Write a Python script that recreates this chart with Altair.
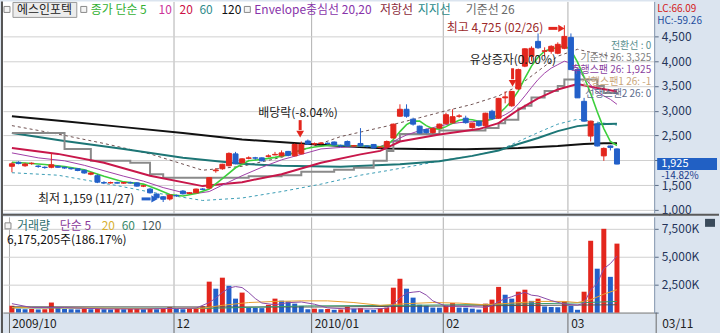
import altair as alt
import pandas as pd

FONT = "Noto Sans CJK KR"
RED = "#e3261d"
BLUE = "#2360c9"

# ---------------- data ----------------
# trading-day index 0 .. 92  (late Oct 2009 .. 2010-03-11)
opens = [1880, 1960, 1890, 1935, 1885, 1860, 1860, 1880, 1860, 1840,
         1830, 1800, 1720, 1690, 1550, 1545, 1550, 1540, 1550, 1545,
         1480, 1420, 1320, 1265, 1220, 1290, 1380, 1330, 1345, 1420,
         1440, 1790, 1830, 1890, 2130, 1950, 2040, 2050, 2050, 2080,
         2110, 2090, 2180, 2090, 2130, 2390, 2330, 2340, 2345, 2370,
         2300, 2380, 2290, 2340, 2290, 2320, 2260, 2270, 2450, 2890,
         3030, 2830, 2690, 2620, 2560, 2650, 2740, 2760, 2890, 2850,
         2660, 2790, 2700, 2990, 2850, 3260, 3100, 3440, 3900, 4100,
         4400, 4200, 4200, 4160, 4260, 4480, 3830, 3190, 2490, 2730,
         2090, 2290, 2230]
highs = [1960, 1980, 1950, 1960, 1900, 1880, 2140, 1890, 1870, 1850,
         1840, 1810, 1760, 1720, 1580, 1570, 1570, 1560, 1570, 1560,
         1500, 1440, 1330, 1280, 1310, 1310, 1400, 1360, 1430, 1440,
         1660, 1845, 1930, 2160, 2170, 2040, 2080, 2070, 2060, 2120,
         2170, 2200, 2190, 2340, 2380, 2420, 2360, 2370, 2360, 2380,
         2320, 2400, 2310, 2650, 2300, 2330, 2280, 2400, 2740, 3130,
         3130, 2860, 2700, 2640, 2660, 2740, 2960, 3030, 2930, 2900,
         2760, 2800, 2960, 3020, 3260, 3390, 3400, 3850, 4260, 4300,
         4560, 4280, 4320, 4380, 4725, 4560, 3840, 3260, 2800, 2760,
         2260, 2300, 2240]
lows = [1760, 1920, 1870, 1910, 1850, 1830, 1840, 1850, 1830, 1810,
        1780, 1730, 1700, 1540, 1520, 1530, 1530, 1525, 1530, 1470,
        1460, 1330, 1230, 1159, 1190, 1260, 1310, 1320, 1340, 1400,
        1430, 1750, 1810, 1880, 1920, 1940, 2020, 2010, 1980, 2060,
        2100, 2080, 2080, 2080, 2120, 2310, 2300, 2320, 2320, 2300,
        2270, 2280, 2270, 2280, 2260, 2240, 2240, 2260, 2440, 2880,
        2860, 2700, 2540, 2540, 2540, 2640, 2730, 2740, 2860, 2740,
        2640, 2680, 2680, 2820, 2840, 3150, 3080, 3420, 3880, 4000,
        4250, 4100, 4150, 4140, 4240, 3830, 3260, 2780, 2380, 2280,
        1990, 2200, 1920]
closes = [1930, 1935, 1925, 1940, 1875, 1855, 1910, 1860, 1845, 1830,
          1795, 1745, 1745, 1560, 1545, 1550, 1540, 1550, 1545, 1480,
          1485, 1345, 1245, 1215, 1300, 1285, 1325, 1345, 1420, 1415,
          1650, 1805, 1920, 2140, 1930, 2030, 2050, 2045, 1990, 2090,
          2120, 2150, 2100, 2320, 2320, 2330, 2335, 2350, 2340, 2310,
          2290, 2290, 2295, 2290, 2285, 2250, 2265, 2380, 2730, 3030,
          2890, 2730, 2550, 2560, 2640, 2730, 2920, 2880, 2895, 2760,
          2750, 2700, 2950, 2840, 3250, 3280, 3390, 3830, 4250, 4260,
          4270, 4210, 4300, 4340, 4500, 3830, 3260, 2790, 2790, 2290,
          2240, 2260, 1925]
volumes_k = [620, 350, 300, 320, 280, 300, 900, 400, 320, 300,
             280, 330, 300, 350, 300, 280, 320, 300, 330, 380,
             300, 350, 300, 380, 500, 330, 300, 350, 420, 580,
             2770, 2140, 3125, 2400, 1250, 1790, 450, 420, 400, 700,
             1250, 1070, 1000, 800, 600, 300, 350, 300, 320, 250,
             280, 500, 350, 400, 250, 240, 350, 450, 2230, 3030,
             2140, 1340, 700, 620, 450, 440, 620, 860, 450, 440,
             350, 270, 800, 1160, 2300, 1600, 1250, 1870, 2050, 1050,
             1250, 550, 500, 480, 1000, 600, 250, 1870, 6430, 3930,
             7500, 3200, 6175]

# indicator lines (index, price)
ma5_i = [0, 2, 5, 8, 11, 14, 17, 20, 22, 24, 26, 28, 30, 32, 34, 36, 38, 40, 42, 44, 46, 48, 50, 52, 54, 56, 57, 58,
         59, 60, 61, 62, 63, 64, 65, 66, 67, 68, 69, 70, 71, 72, 73, 74, 75, 76, 77, 78, 79, 80, 81, 82, 83, 84, 85,
         86, 87, 88, 89, 90, 91, 92]
ma5_v = [1960, 1945, 1915, 1875, 1810, 1680, 1565, 1520, 1420, 1310, 1280, 1330, 1420, 1630, 1850, 1990, 2020,
         2060, 2110, 2220, 2270, 2300, 2300, 2295, 2290, 2275, 2300, 2420, 2580, 2720, 2790, 2790, 2700, 2640,
         2630, 2680, 2750, 2810, 2830, 2820, 2790, 2800, 2830, 2930, 3060, 3200, 3400, 3660, 3900, 4080, 4200,
         4250, 4270, 4320, 4220, 3980, 3680, 3350, 2980, 2640, 2380, 2300]
ma10_i = [0, 4, 8, 11, 14, 17, 20, 23, 26, 28, 30, 32, 35, 38, 41, 44, 47, 50, 53, 56, 58, 59, 60, 62, 64, 66, 68,
          70, 72, 74, 75, 76, 77, 78, 79, 80, 81, 82, 83, 84, 85, 86, 87, 88, 89, 90, 91, 92]
ma10_v = [2150, 2050, 1990, 1900, 1790, 1680, 1580, 1450, 1350, 1330, 1370, 1500, 1690, 1860, 2010, 2120, 2230,
          2260, 2280, 2280, 2380, 2450, 2510, 2600, 2660, 2720, 2760, 2780, 2800, 2860, 2920, 3000, 3140, 3300,
          3470, 3630, 3760, 3860, 3930, 4000, 3960, 3850, 3670, 3520, 3380, 3300, 3230, 3130]
ma20_i = [0, 7, 14, 21, 29, 35, 41, 47, 53, 56, 59, 65, 71, 74, 77, 80, 83, 86, 89, 92]
ma20_v = [2250, 2130, 1950, 1690, 1480, 1560, 1720, 1950, 2120, 2190, 2380, 2520, 2630, 2750, 3020, 3250, 3430,
          3540, 3460, 3390]
ma60_i = [0, 8, 17, 26, 35, 41, 50, 59, 65, 70, 74, 77, 80, 83, 86, 89, 92]
ma60_v = [2550, 2390, 2230, 2050, 1930, 1890, 1870, 1920, 1980, 2090, 2200, 2330, 2450, 2590, 2690, 2730, 2740]
ma120_i = [0, 8, 17, 26, 35, 44, 50, 57, 62, 69, 77, 83, 87, 90, 92]
ma120_v = [2890, 2790, 2670, 2550, 2420, 2340, 2290, 2240, 2230, 2225, 2250, 2290, 2330, 2345, 2345]
base_i = [0, 8, 12, 18, 21, 23, 36, 41, 44, 49, 52, 55, 57, 58, 59, 65, 72, 74, 75, 77, 78, 79, 81, 83, 84, 89,
          90, 92]
base_v = [2550, 2230, 1990, 1950, 1720, 1650, 1680, 1700, 1770, 1810, 1850, 1990, 2190, 2390, 2530, 2600, 2650,
          2750, 2820, 3045, 3100, 3270, 3400, 3500, 3630, 3500, 3360, 3325]
envu_i = [0, 7, 14, 21, 29, 35, 41, 50, 57, 62, 66, 70, 74, 77, 80, 83, 86, 89, 92]
envu_v = [2700, 2530, 2340, 2130, 1800, 1880, 2060, 2480, 2690, 2860, 3000, 3130, 3300, 3500, 3800, 4100, 4240,
          4150, 4070]
envl_i = [0, 7, 16, 21, 29, 35, 41, 47, 53, 57, 62, 66, 70, 74, 77, 80, 83, 86, 89, 92]
envl_v = [1750, 1700, 1490, 1360, 1190, 1240, 1370, 1520, 1700, 1790, 1910, 2010, 2090, 2200, 2380, 2560, 2730,
          2830, 2770, 2710]

# volume averages (index, thousand shares)
vma5_i = [0, 3, 8, 14, 20, 25, 28, 30, 31, 32, 33, 34, 35, 36, 37, 38, 40, 42, 44, 46, 48, 51, 55, 57, 58, 59, 60,
          61, 62, 63, 64, 66, 68, 70, 72, 73, 74, 75, 76, 77, 78, 79, 80, 82, 84, 86, 87, 88, 89, 90, 91, 92]
vma5_v = [800, 450, 450, 330, 320, 380, 400, 900, 1300, 1800, 2200, 2330, 2240, 1800, 1260, 860, 700, 890, 950,
          750, 420, 330, 330, 390, 730, 1300, 1750, 1830, 1890, 1570, 1050, 570, 570, 520, 480, 620, 1000, 1240,
          1420, 1640, 1810, 1560, 1490, 1080, 760, 670, 840, 2030, 2620, 3930, 4390, 5060]
vma20_i = [0, 10, 20, 29, 32, 36, 40, 44, 48, 52, 56, 60, 64, 68, 72, 76, 80, 84, 86, 88, 90, 92]
vma20_v = [450, 420, 350, 400, 650, 900, 1000, 1050, 1050, 900, 650, 800, 900, 850, 700, 850, 1000, 1000, 900,
           1150, 1650, 2050]
vma60_i = [0, 30, 45, 60, 75, 85, 92]
vma60_v = [420, 380, 600, 650, 750, 850, 1000]
vma120_i = [0, 46, 92]
vma120_v = [520, 500, 700]

month_pos = [-0.5, 24.5, 45.5, 65.5, 84.5]
month_labels = ["2009/10", "12", "2010/01", "02", "03"]
price_ticks = [1000, 1500, 2000, 2500, 3000, 3500, 4000, 4500]
vol_ticks = [0, 2500, 5000, 7500]

# ---------------- chart ----------------
W, HP, HV = 653, 212, 96
XS = alt.Scale(domain=[-0.6, 96.9], nice=False, zero=False)
YS = alt.Scale(domain=[940, 5205], nice=False, zero=False)
VS = alt.Scale(domain=[0, 8570], nice=False, zero=False)
DIR = alt.Scale(domain=["up", "down"], range=[RED, BLUE])

n = len(closes)
cdf = pd.DataFrame({
    "i": list(range(n)), "o": opens, "h": highs, "l": lows, "c": closes, "v": volumes_k,
})
cdf["bt"] = cdf[["o", "c"]].max(axis=1)
cdf["bb"] = cdf[["o", "c"]].min(axis=1)
cdf["dir"] = ["up" if c >= o else "down" for o, c in zip(opens, closes)]
cdf["vdir"] = ["up" if k == 0 or volumes_k[k] >= volumes_k[k - 1] else "down" for k in range(n)]

last = closes[-1]
chg = (closes[-1] / closes[-2] - 1) * 100

# axes (same objects used in every layer so that they merge cleanly)
price_axis = alt.Axis(orient="right", values=price_ticks, labelExpr=(
    f"datum.value == {round(last, -3)} ? '' : format(datum.value, ',')"),
    grid=True, gridColor="#d0d0d0", tickSize=4, tickColor="#5a6b85", domainColor="#8496ad",
    labelColor="#25355a", labelFont=FONT, labelFontSize=12, labelPadding=3, labelOverlap=False,
    minExtent=65, maxExtent=65, title=None)
px_axis = alt.Axis(values=month_pos[1:], grid=True, gridColor="#b0b0b0", labels=False, ticks=False,
                   domain=False, title=None, minExtent=0, maxExtent=0)
vol_axis = alt.Axis(orient="right", values=vol_ticks, grid=True, gridColor="#d0d0d0", tickSize=4,
                    tickColor="#5a6b85", domainColor="#8496ad", labelColor="#25355a", labelFont=FONT,
                    labelFontSize=12, labelPadding=3, labelOverlap=False, minExtent=65, maxExtent=65,
                    title=None, labelExpr="datum.value == 0 ? '' : format(datum.value, ',') + 'K'")
lab_expr = " : ".join(f"datum.value < {p + 1} ? '{l}'" for p, l in zip(month_pos[:-1], month_labels[:-1]))
lab_expr += f" : '{month_labels[-1]}'"
vx_axis = alt.Axis(values=month_pos, labelExpr=lab_expr, grid=True, gridColor="#b0b0b0", tickSize=21,
                   tickColor="#6a6a6a", domainColor="#8a8a8a", labelAlign="left", labelBaseline="middle",
                   labelPadding=-10, labelOffset=3, labelColor="#222222", labelFont=FONT, labelFontSize=12,
                   labelOverlap=False, labelFlush=False, minExtent=21, maxExtent=21, title=None)

ONE = alt.Data(values=[{}])


def line(idx, vals, color, width, dash=None, interp=None):
    df = pd.DataFrame({"i": idx, "p": vals})
    kw = dict(color=color, strokeWidth=width)
    if dash:
        kw["strokeDash"] = dash
    if interp:
        kw["interpolate"] = interp
    return alt.Chart(df).mark_line(**kw).encode(
        x=alt.X("i:Q", scale=XS, axis=px_axis), y=alt.Y("p:Q", scale=YS, axis=price_axis))


def vline(idx, vals, color):
    df = pd.DataFrame({"i": idx, "v": vals})
    return alt.Chart(df).mark_line(color=color, strokeWidth=1).encode(
        x=alt.X("i:Q", scale=XS, axis=vx_axis), y=alt.Y("v:Q", scale=VS, axis=vol_axis))


def txt(x, y, s, color, size=12, align="left"):
    return alt.Chart(ONE).mark_text(text=s, align=align, baseline="middle", font=FONT, fontSize=size,
                                    color=color).encode(x=alt.value(x), y=alt.value(y))


def box(x1, x2, y1, y2, fill, stroke=None):
    kw = dict(fill=fill)
    if stroke:
        kw["stroke"] = stroke
        kw["strokeWidth"] = 1
    return alt.Chart(ONE).mark_rect(**kw).encode(
        x=alt.value(x1), x2=alt.value(x2), y=alt.value(y1), y2=alt.value(y2))


def seg(x1, y1, x2, y2, color, w):
    return alt.Chart(ONE).mark_rule(color=color, strokeWidth=w).encode(
        x=alt.value(x1), x2=alt.value(x2), y=alt.value(y1), y2=alt.value(y2))


def tri(x, y, shape, color, size=60):
    return alt.Chart(ONE).mark_point(shape=shape, filled=True, size=size, color=color, opacity=1).encode(
        x=alt.value(x), y=alt.value(y))


wick = alt.Chart(cdf).mark_rule(strokeWidth=1).encode(
    x=alt.X("i:Q", scale=XS, axis=px_axis), y=alt.Y("l:Q", scale=YS, axis=price_axis), y2="h:Q",
    color=alt.Color("dir:N", scale=DIR, legend=None))
body = alt.Chart(cdf).mark_bar(size=5, strokeWidth=1).encode(
    x=alt.X("i:Q", scale=XS, axis=px_axis),
    y=alt.Y("bt:Q", scale=YS, axis=price_axis), y2="bb:Q",
    color=alt.Color("dir:N", scale=DIR, legend=None),
    stroke=alt.Stroke("dir:N", scale=DIR, legend=None))

price_layers = [
    line(envu_i, envu_v, "#6e5050", 1, dash=[3, 3]),
    line(envl_i, envl_v, "#3b9db5", 1, dash=[3, 3]),
    line(ma120_i, ma120_v, "#111111", 2),
    line(ma60_i, ma60_v, "#1d7676", 2),
    line(base_i, base_v, "#8a8a8a", 2, interp="step-after"),
    line(ma20_i, ma20_v, "#c8174a", 2),
    line(ma10_i, ma10_v, "#a040a8", 1),
    line(ma5_i, ma5_v, "#3ccf3c", 1.6),
    wick, body,
    # legend row
    box(1, 7, 5, 11, "#f4f4f4", "#8a8a8a"),
    box(10, 74, 1, 16, "#ececec", "#9a9a9a"),
    txt(14, 9, "에스인포텍", "#222222"),
    box(78, 84, 5, 11, "#f4f4f4", "#8a8a8a"),
    txt(88, 9, "종가 단순 5", "#33b033"),
    txt(156, 9, "10", "#cc3399"),
    txt(177, 9, "20", "#cc1144"),
    txt(197, 9, "60", "#2f8a8a"),
    txt(219, 9, "120", "#111111"),
    box(242, 248, 5, 11, "#f4f4f4", "#8a8a8a"),
    txt(252, 9, "Envelope중심선 20,20", "#8833aa"),
    txt(378, 9, "저항선", "#8b2a3a"),
    txt(416, 9, "지지선", "#2a8a8a"),
    txt(464, 9, "기준선 26", "#6a6a6a"),
    txt(656, 8, "LC:66.09", "#d42020", 10),
    txt(656, 20, "HC:-59.26", "#1f4f9f", 10),
    # annotations
    txt(445, 27, "최고 4,725 (02/26)", "#9c2a2a"),
    seg(547, 27, 556, 27, RED, 3), tri(560, 27, "triangle-right", RED, 55),
    txt(468, 59, "유상증자(0.00%)", "#222222"),
    seg(511, 67, 511, 78, RED, 3), tri(511, 82, "triangle-down", RED, 60),
    txt(256, 112, "배당락(-8.04%)", "#222222"),
    seg(298, 119, 298, 129, RED, 3), tri(298, 133, "triangle-down", RED, 60),
    txt(35, 198, "최저 1,159 (11/27)", "#222222"),
    seg(139, 198, 148, 198, BLUE, 3), tri(152, 198, "triangle-right", BLUE, 55),
    # ichimoku labels
    txt(650, 45, "전환선 : 0", "#5a9090", 10, align="right"),
    txt(650, 57, "기준선 26: 3,325", "#7f7f7f", 10, align="right"),
    txt(650, 69, "후행스팬 26: 1,925", "#8a3fa0", 10, align="right"),
    txt(650, 81, "선행스팬1 26: -1", "#c9a57a", 10, align="right"),
    txt(650, 93, "선행스팬2 26: 0", "#5d6d8d", 10, align="right"),
    # last price marker
    box(656, 716, 157, 169, "#2160c4"),
    txt(660, 163, f"{last:,}", "#ffffff", 11),
    txt(660, 175, f"{chg:.2f}%", "#1a3a8a", 10),
    # frame
    seg(-2, 214, 718, 214, "#5a5a5a", 2),
    seg(-1, 0, -1, 333, "#555555", 2),
]
price = alt.layer(*price_layers).properties(width=W, height=HP)

vbars = alt.Chart(cdf).mark_bar(size=5).encode(
    x=alt.X("i:Q", scale=XS, axis=vx_axis),
    y=alt.Y("v:Q", scale=VS, axis=vol_axis), y2=alt.datum(0),
    color=alt.Color("vdir:N", scale=DIR, legend=None))

vol_layers = [
    vbars,
    vline(vma120_i, vma120_v, "#555555"),
    vline(vma60_i, vma60_v, "#3a9a6a"),
    vline(vma20_i, vma20_v, "#e8a030"),
    vline(vma5_i, vma5_v, "#8a4aa8"),
    box(2, 8, 6, 12, "#f4f4f4", "#8a8a8a"),
    txt(14, 9, "거래량", "#2f6f6f", 12),
    txt(57, 9, "단순 5", "#8a3a9a", 12),
    txt(99, 9, "20", "#d8b030", 12),
    txt(119, 9, "60", "#3a8a6a", 12),
    txt(139, 9, "120", "#4a5a5a", 12),
    txt(4, 23, "6,175,205주(186.17%)", "#111111", 12),
    box(704, 714, 2, 10, "#3a4a5a"),
    seg(655, 96, 655, 117, "#6a6a6a", 1),
    txt(661, 107, "03/11", "#222222"),
]
volume = alt.layer(*vol_layers).properties(width=W, height=HV)

chart = alt.vconcat(price, volume, spacing=4, bounds="flush").properties(
    background="#dbe4ef", padding={"left": 0, "right": 0, "top": 0, "bottom": 0}
).configure_view(fill="white", strokeWidth=0)

chart.save("out.html", embed_options={"renderer": "svg", "actions": False})
